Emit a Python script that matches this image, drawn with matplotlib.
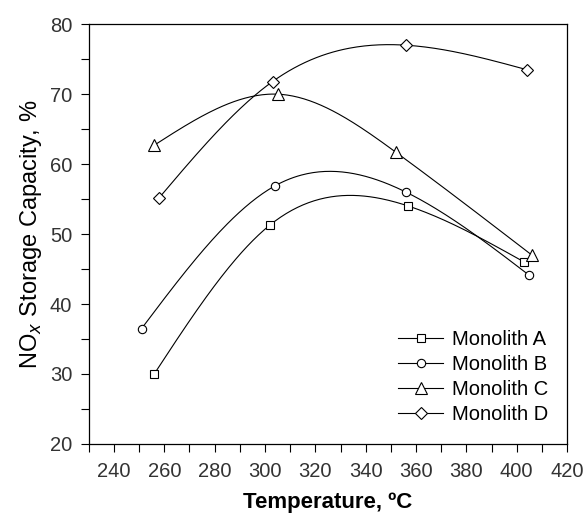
import numpy as np
import matplotlib
matplotlib.use("Agg")
import matplotlib.pyplot as plt
from matplotlib.ticker import MultipleLocator

plt.rcParams['font.family'] = ['Liberation Sans', 'DejaVu Sans']

series_names = ["Monolith A", "Monolith B", "Monolith C", "Monolith D"]
temp_A = [256, 302, 357, 403]
cap_A = [30.0, 51.3, 54.0, 46.0]
temp_B = [251, 304, 356, 405]
cap_B = [36.5, 56.9, 56.0, 44.1]
temp_C = [256, 305, 352, 406]
cap_C = [62.7, 70.0, 61.7, 47.0]
temp_D = [258, 303, 356, 404]
cap_D = [55.2, 71.8, 77.0, 73.5]
markers = ["s", "o", "^", "D"]


def natural_spline(x, y, n=200):
    x = np.asarray(x, float)
    y = np.asarray(y, float)
    m = len(x)
    h = np.diff(x)
    A = np.zeros((m, m))
    b = np.zeros(m)
    A[0, 0] = 1
    A[-1, -1] = 1
    for i in range(1, m - 1):
        A[i, i - 1] = h[i - 1]
        A[i, i] = 2 * (h[i - 1] + h[i])
        A[i, i + 1] = h[i]
        b[i] = 6 * ((y[i + 1] - y[i]) / h[i] - (y[i] - y[i - 1]) / h[i - 1])
    M = np.linalg.solve(A, b)
    xs = np.linspace(x[0], x[-1], n)
    ys = np.empty_like(xs)
    for k, xv in enumerate(xs):
        i = min(np.searchsorted(x, xv) - 1, m - 2)
        i = max(i, 0)
        t1 = x[i + 1] - xv
        t0 = xv - x[i]
        ys[k] = (M[i] * t1 ** 3 / (6 * h[i]) + M[i + 1] * t0 ** 3 / (6 * h[i])
                 + (y[i] / h[i] - M[i] * h[i] / 6) * t1
                 + (y[i + 1] / h[i] - M[i + 1] * h[i] / 6) * t0)
    return xs, ys


fig = plt.figure(figsize=(5.84, 5.15), dpi=100)
ax = fig.add_axes([0.152, 0.138, 0.819, 0.815])

data = [(temp_A, cap_A), (temp_B, cap_B), (temp_C, cap_C), (temp_D, cap_D)]
for (tx, cy), name, mk in zip(data, series_names, markers):
    xs, ys = natural_spline(tx, cy)
    ax.plot(xs, ys, color="black", lw=0.8)
    ms = 6
    if mk == "^":
        ms = 8
    ax.plot(tx, cy, linestyle="none", marker=mk, mfc="white", mec="black",
            mew=0.8, ms=ms)
    ax.plot([], [], color="black", lw=0.8, marker=mk, mfc="white",
            mec="black", mew=0.8, ms=ms, label=name)

ax.set_xlim(230, 420)
ax.set_ylim(20, 80)
ax.xaxis.set_major_locator(MultipleLocator(20))
ax.xaxis.set_minor_locator(MultipleLocator(10))
ax.yaxis.set_major_locator(MultipleLocator(10))
ax.yaxis.set_minor_locator(MultipleLocator(5))
ax.tick_params(which="both", direction="out", length=6, width=0.8,
               top=False, right=False, labelsize=14.5, labelcolor="#333333")
ax.tick_params(axis="x", pad=7)
ax.tick_params(axis="y", pad=6)
ax.set_xticks([240, 260, 280, 300, 320, 340, 360, 380, 400, 420])
for s in ax.spines.values():
    s.set_linewidth(0.9)

ax.set_xlabel("Temperature, ºC", fontsize=16, fontweight="bold", labelpad=8)
ax.set_ylabel("NO$_x$ Storage Capacity, %", fontsize=17, labelpad=4)

leg = ax.legend(loc="lower right", frameon=False, fontsize=14.5,
                handlelength=2.2, handletextpad=0.45, labelspacing=0.3,
                bbox_to_anchor=(0.998, 0.004))

fig.savefig("out.png", dpi=100)
